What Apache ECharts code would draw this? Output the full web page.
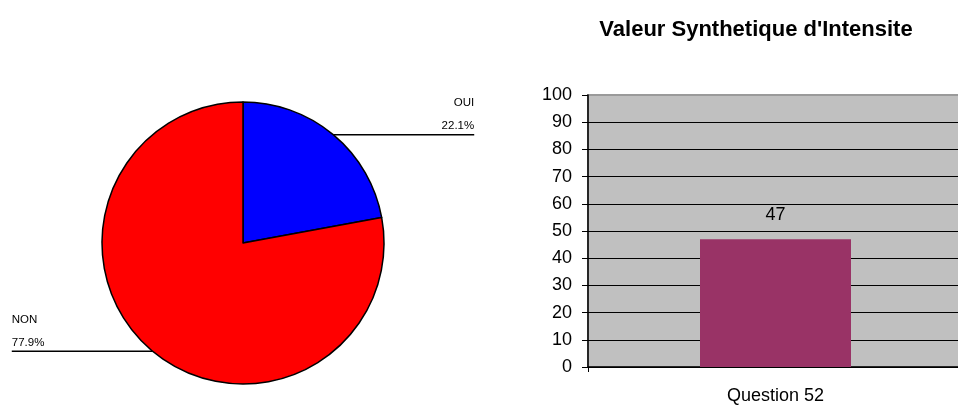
<!DOCTYPE html>
<html>
<head>
<meta charset="utf-8">
<script src="https://cdn.jsdelivr.net/npm/echarts@6/dist/echarts.min.js"></script>
<style>
  html, body { margin: 0; padding: 0; background: #fff; }
  #main { width: 958px; height: 405px; }
</style>
</head>
<body>
<div id="main"></div>
<script>
// pie data
const pieNames = ["OUI", "NON"];
const pieValues = [22.1, 77.9];
const pieColors = ["#0000FF", "#FF0000"];

// bar data
const barTitle = "Valeur Synthetique d'Intensite";
const barCategories = ["Question 52"];
const barValues = [47];

const FONT = "Liberation Sans, Arial, sans-serif";

const chartDom = document.getElementById("main");
const myChart = echarts.init(chartDom);

const option = {
  animation: false,
  title: {
    text: barTitle,
    left: 751,
    top: 14,
    textAlign: "center",
    textStyle: { fontFamily: FONT, fontSize: 22, fontWeight: "bold", color: "#000" },
  },
  grid: {
    left: 588,
    top: 95,
    width: 375,
    bottom: 38,
    outerBoundsMode: "none",
    show: true,
    backgroundColor: "#C0C0C0",
    borderColor: "#9a9a9a",
    borderWidth: 2,
  },
  xAxis: {
    type: "category",
    data: barCategories,
    axisLine: { lineStyle: { color: "#000", width: 1.5 } },
    axisTick: { show: true, length: 5, lineStyle: { color: "#000" } },
    axisLabel: { fontFamily: FONT, fontSize: 18, color: "#000", margin: 20 },
  },
  yAxis: {
    type: "value",
    min: 0,
    max: 100,
    interval: 10,
    axisLine: { show: true, lineStyle: { color: "#000", width: 1.5 } },
    axisTick: { show: true, length: 6, lineStyle: { color: "#000" } },
    axisLabel: { fontFamily: FONT, fontSize: 18, color: "#000", margin: 16 },
    splitLine: { show: true, showMaxLine: false, lineStyle: { color: "#000", width: 1 } },
  },
  series: [
    {
      type: "bar",
      data: barValues,
      barWidth: 151,
      itemStyle: { color: "#993366" },
      label: {
        show: true,
        position: "top",
        distance: 15,
        fontFamily: FONT,
        fontSize: 18,
        color: "#000",
      },
    },
    {
      type: "pie",
      center: [243, 243],
      radius: 141,
      startAngle: 90,
      clockwise: true,
      data: pieNames.map((n, i) => ({
        name: n,
        value: pieValues[i],
        itemStyle: { color: pieColors[i] },
        label: {
          rich: {
            a: { width: 60, align: i === 0 ? "right" : "left", fontFamily: FONT, fontSize: 11.5, lineHeight: 23, color: "#000" },
          },
        },
      })),
      itemStyle: { borderColor: "#000", borderWidth: 1.5 },
      label: {
        show: true,
        position: "outside",
        formatter: (p) => "{a|" + p.name + "}\n{a|" + p.value + "%}",
        padding: [0, 0, 41, 0],
        distanceToLabelLine: -60,
      },
      labelLine: {
        show: true,
        length: 0,
        length2: 141,
        lineStyle: { color: "#000", width: 1.5 },
      },
      emphasis: { disabled: true },
    },
  ],
};

option && myChart.setOption(option);
</script>
</body>
</html>
